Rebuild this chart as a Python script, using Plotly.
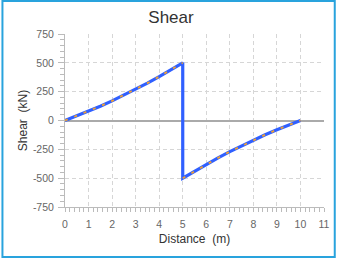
import plotly.graph_objects as go

# Data
x_pos = [0, 0.5, 1, 1.5, 2, 2.5, 3, 3.5, 4, 4.5, 5]
v_pos = [0, 39, 80, 124, 170, 219, 270, 324, 380, 439, 500]
x_neg = [5, 5.5, 6, 6.5, 7, 7.5, 8, 8.5, 9, 9.5, 10]
v_neg = [-500, -439, -380, -324, -270, -219, -170, -124, -80, -39, 0]

y_tickvals = [-750, -500, -250, 0, 250, 500, 750]
y_ticktext = ["-750", "-500", "-250", "0", "250", "500", "750"]
x_tickvals = list(range(0, 12))
x_ticktext = [str(v) for v in x_tickvals]

font = "Liberation Sans, Arial, sans-serif"

fig = go.Figure()
fig.add_trace(go.Scatter(
    x=x_pos + x_neg, y=v_pos + v_neg, mode="lines",
    line=dict(color="#3060ff", width=3.2), hoverinfo="skip", showlegend=False))
fig.add_trace(go.Scatter(
    x=x_pos + [None] + x_neg, y=v_pos + [None] + v_neg, mode="lines",
    line=dict(color="#f0a030", width=1.8, dash="3px,7px"), connectgaps=False,
    hoverinfo="skip", showlegend=False))

grid = "#d6d6d6"
fig.update_layout(
    width=342, height=258,
    margin=dict(l=65, r=12, t=34, b=51),
    paper_bgcolor="white", plot_bgcolor="white",
    font=dict(family=font, color="#555"),
    title=dict(text="Shear", x=0.5, xref="container", y=0.935, yanchor="middle",
               font=dict(size=17, color="#333", family=font)),
    xaxis=dict(range=[0, 11], tickvals=x_tickvals, ticktext=x_ticktext,
               showgrid=True, gridcolor=grid, griddash="4px,3px", gridwidth=1,
               showline=True, linecolor="#bbb", linewidth=1,
               ticks="outside", ticklen=4, tickcolor="#bbb",
               minor=dict(dtick=0.2, ticks="outside", ticklen=4, tickcolor="#bbb", showgrid=False),
               tickfont=dict(size=10.5, color="#666"), ticklabelstandoff=3,
               title=dict(text="Distance  (m)", font=dict(size=12, color="#333"), standoff=6),
               zeroline=False, fixedrange=True),
    yaxis=dict(range=[-750, 750], tickvals=y_tickvals, ticktext=y_ticktext,
               showgrid=True, gridcolor=grid, griddash="4px,3px", gridwidth=1,
               showline=True, linecolor="#bbb", linewidth=1,
               ticks="outside", ticklen=6, tickcolor="#bbb",
               minor=dict(dtick=50, ticks="outside", ticklen=4, tickcolor="#bbb", showgrid=False),
               tickfont=dict(size=10.5, color="#666"), ticklabelstandoff=2,
               title=dict(text="Shear  (kN)", font=dict(size=12, color="#333"), standoff=2),
               zeroline=True, zerolinecolor="#aaa", zerolinewidth=2, fixedrange=True),
    shapes=[dict(type="rect", xref="paper", yref="paper",
                 x0=-64/265, x1=1 + 11/265, y0=-50/173, y1=1 + 33/173,
                 line=dict(color="#29a3dd", width=2), fillcolor="rgba(0,0,0,0)", layer="above")],
)

fig.write_html("out.html")
